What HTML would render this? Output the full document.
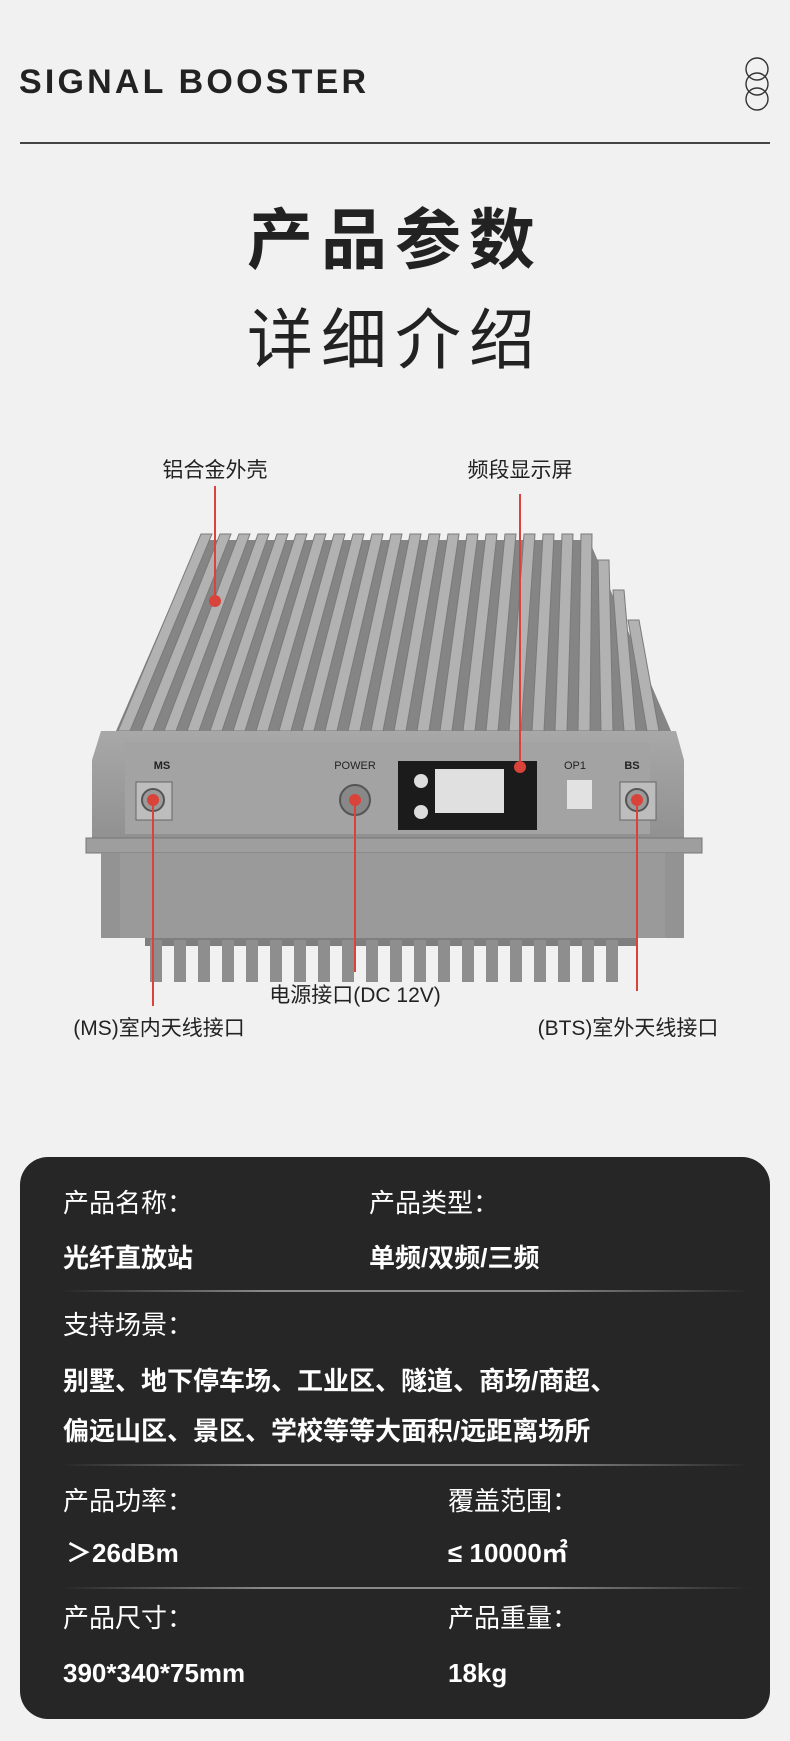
<!DOCTYPE html>
<html><head><meta charset="utf-8"><style>
body{margin:0;width:790px;height:1741px;background:#f1f1f1;position:relative;overflow:hidden;font-family:"Liberation Sans","Noto Sans CJK SC",sans-serif;color:#222}
.a{position:absolute;white-space:nowrap}
.card{position:absolute;left:20px;top:1157px;width:750px;height:562px;background:#262626;border-radius:28px}
.t{position:absolute;color:#fff;font-size:26px;white-space:nowrap;line-height:1}
.b{font-weight:bold}
.sep{position:absolute;left:60px;width:690px;height:2px;background:linear-gradient(90deg,rgba(120,120,120,0),#8a8a8a 30%,#8a8a8a 70%,rgba(120,120,120,0))}
.lbl{position:absolute;font-size:21px;color:#222;white-space:nowrap;transform:translate(-50%,-50%)}
</style></head><body>
<div class="a" style="left:19px;top:63px;font-size:34px;letter-spacing:3.2px;font-weight:bold;font-family:'Liberation Sans',sans-serif;color:#222">SIGNAL BOOSTER</div>
<svg class="a" style="left:740px;top:55px" width="34" height="58"><g fill="none" stroke="#333" stroke-width="1.4"><ellipse cx="17" cy="14" rx="11" ry="11"/><ellipse cx="17" cy="29" rx="11" ry="11"/><ellipse cx="17" cy="44" rx="11" ry="11"/></g></svg>
<div class="a" style="left:20px;top:142px;width:750px;height:2px;background:#444"></div>
<div class="a" style="left:0;width:790px;text-align:center;top:200px;font-size:66px;font-weight:bold;letter-spacing:8px;line-height:80px">产品参数</div>
<div class="a" style="left:0;width:790px;text-align:center;top:300px;font-size:66px;letter-spacing:8px;line-height:80px">详细介绍</div>

<svg class="a" style="left:0;top:0" width="790" height="1100">
<defs>
<linearGradient id="bd" x1="0" y1="0" x2="0" y2="1"><stop offset="0" stop-color="#a8a8a8"/><stop offset="1" stop-color="#909090"/></linearGradient>
</defs>
<polygon points="199,540 589,540 671,731 116,731" fill="#858585"/>
<g fill="#b2b2b2" stroke="#7a7a7a" stroke-width="1">
<polygon points="201,534 212,534 130,731 118,731"/>
<polygon points="220,534 231,534 153,731 141,731"/>
<polygon points="239,534 250,534 176,731 164,731"/>
<polygon points="258,534 269,534 199,731 187,731"/>
<polygon points="277,534 288,534 222,731 210,731"/>
<polygon points="296,534 307,534 245,731 233,731"/>
<polygon points="315,534 326,534 268,731 256,731"/>
<polygon points="334,534 345,534 291,731 279,731"/>
<polygon points="353,534 364,534 314,731 302,731"/>
<polygon points="372,534 383,534 337,731 325,731"/>
<polygon points="391,534 402,534 360,731 348,731"/>
<polygon points="410,534 421,534 383,731 371,731"/>
<polygon points="429,534 440,534 406,731 394,731"/>
<polygon points="448,534 459,534 429,731 417,731"/>
<polygon points="467,534 478,534 452,731 440,731"/>
<polygon points="486,534 497,534 475,731 463,731"/>
<polygon points="505,534 516,534 498,731 486,731"/>
<polygon points="524,534 535,534 521,731 509,731"/>
<polygon points="543,534 554,534 544,731 532,731"/>
<polygon points="562,534 573,534 567,731 555,731"/>
<polygon points="581,534 592,534 590,731 578,731"/>
<polygon points="598,560 609,560 613,731 601,731"/>
<polygon points="613,590 624,590 636,731 624,731"/>
<polygon points="628,620 639,620 659,731 647,731"/>
</g>
<polygon points="101,731 676,731 684,760 684,842 92,842 92,760" fill="url(#bd)"/>
<rect x="125" y="742" width="525" height="92" fill="#a3a3a3"/>
<rect x="86" y="838" width="616" height="15" fill="#9e9e9e" stroke="#777"/>
<rect x="101" y="853" width="583" height="85" fill="#939393"/>
<rect x="120" y="853" width="545" height="85" fill="#9a9a9a"/>
<rect x="145" y="938" width="492" height="8" fill="#7f7f7f"/>
<g fill="#8e8e8e">
<rect x="150" y="940" width="12" height="42"/><rect x="174" y="940" width="12" height="42"/><rect x="198" y="940" width="12" height="42"/><rect x="222" y="940" width="12" height="42"/><rect x="246" y="940" width="12" height="42"/><rect x="270" y="940" width="12" height="42"/><rect x="294" y="940" width="12" height="42"/><rect x="318" y="940" width="12" height="42"/><rect x="342" y="940" width="12" height="42"/><rect x="366" y="940" width="12" height="42"/><rect x="390" y="940" width="12" height="42"/><rect x="414" y="940" width="12" height="42"/><rect x="438" y="940" width="12" height="42"/><rect x="462" y="940" width="12" height="42"/><rect x="486" y="940" width="12" height="42"/><rect x="510" y="940" width="12" height="42"/><rect x="534" y="940" width="12" height="42"/><rect x="558" y="940" width="12" height="42"/><rect x="582" y="940" width="12" height="42"/><rect x="606" y="940" width="12" height="42"/>
</g>
<rect x="398" y="761" width="139" height="69" fill="#1b1b1b"/>
<rect x="435" y="769" width="69" height="44" fill="#e0e0e0"/>
<circle cx="421" cy="781" r="7" fill="#ddd"/><circle cx="421" cy="812" r="7" fill="#ddd"/>
<rect x="136" y="782" width="36" height="38" fill="#bdbdbd" stroke="#666"/>
<circle cx="153" cy="800" r="11" fill="#9a9a9a" stroke="#555" stroke-width="2"/>
<circle cx="355" cy="800" r="15" fill="#888" stroke="#555" stroke-width="2"/>
<rect x="620" y="782" width="36" height="38" fill="#bdbdbd" stroke="#666"/>
<circle cx="637" cy="800" r="11" fill="#9a9a9a" stroke="#555" stroke-width="2"/>
<rect x="567" y="780" width="25" height="29" fill="#e2e2e2"/>
<text x="162" y="769" font-size="11" font-weight="bold" text-anchor="middle" fill="#222" font-family="Liberation Sans">MS</text>
<text x="355" y="769" font-size="11" text-anchor="middle" fill="#222" font-family="Liberation Sans">POWER</text>
<text x="575" y="769" font-size="11" text-anchor="middle" fill="#222" font-family="Liberation Sans">OP1</text>
<text x="632" y="769" font-size="11" font-weight="bold" text-anchor="middle" fill="#222" font-family="Liberation Sans">BS</text>
<g stroke="#d9433a" stroke-width="2">
<line x1="215" y1="486" x2="215" y2="601"/><line x1="520" y1="494" x2="520" y2="767"/>
<line x1="153" y1="800" x2="153" y2="1006"/><line x1="355" y1="800" x2="355" y2="972"/><line x1="637" y1="800" x2="637" y2="991"/>
</g>
<g fill="#d9433a"><circle cx="215" cy="601" r="6"/><circle cx="520" cy="767" r="6"/><circle cx="153" cy="800" r="6"/><circle cx="355" cy="800" r="6"/><circle cx="637" cy="800" r="6"/></g>
</svg>
<div class="lbl" style="left:215px;top:469px">铝合金外壳</div>
<div class="lbl" style="left:520px;top:469px">频段显示屏</div>
<div class="lbl" style="left:355px;top:994px">电源接口(DC 12V)</div>
<div class="lbl" style="left:159px;top:1027px">(MS)室内天线接口</div>
<div class="lbl" style="left:628px;top:1027px">(BTS)室外天线接口</div>

<div class="card"></div>
<div class="t" style="left:63px;top:1190px">产品名称：</div>
<div class="t" style="left:369px;top:1190px">产品类型：</div>
<div class="t b" style="left:63px;top:1245px">光纤直放站</div>
<div class="t b" style="left:369px;top:1245px">单频/双频/三频</div>
<div class="sep" style="top:1290px"></div>
<div class="t" style="left:63px;top:1312px">支持场景：</div>
<div class="t b" style="left:63px;top:1368px">别墅、地下停车场、工业区、隧道、商场/商超、</div>
<div class="t b" style="left:63px;top:1418px">偏远山区、景区、学校等等大面积/远距离场所</div>
<div class="sep" style="top:1464px"></div>
<div class="t" style="left:63px;top:1488px">产品功率：</div>
<div class="t" style="left:448px;top:1488px">覆盖范围：</div>
<div class="t b" style="left:66px;top:1540px">＞26dBm</div>
<div class="t b" style="left:448px;top:1540px">≤ 10000㎡</div>
<div class="sep" style="top:1587px"></div>
<div class="t" style="left:63px;top:1605px">产品尺寸：</div>
<div class="t" style="left:448px;top:1605px">产品重量：</div>
<div class="t b" style="left:63px;top:1660px">390*340*75mm</div>
<div class="t b" style="left:448px;top:1660px">18kg</div>
</body></html>
